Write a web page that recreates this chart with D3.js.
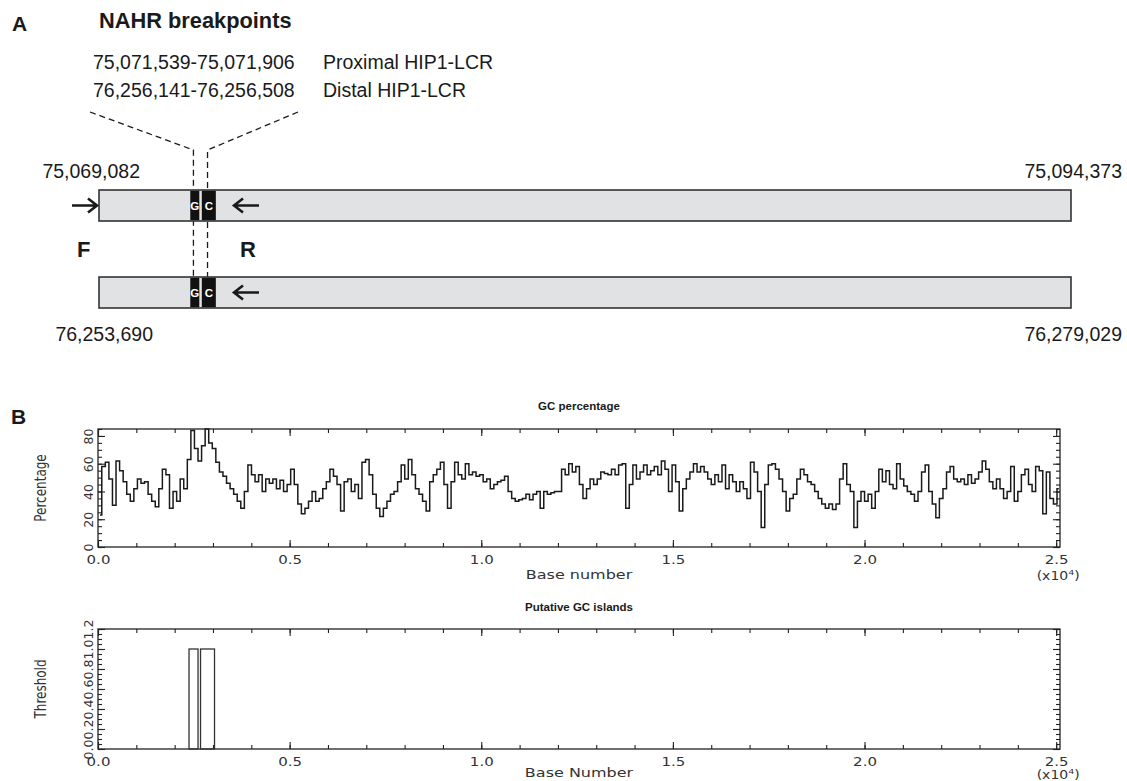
<!DOCTYPE html>
<html>
<head>
<meta charset="utf-8">
<script src="https://cdn.jsdelivr.net/npm/d3@7"></script>
<style>
  body { margin: 0; background: #fff; }
  svg { display: block; }
</style>
</head>
<body>
<div id="chart"></div>
<script>
// ---- Panel A data: the two HIP1-LCR regions and the breakpoints ----
var regionProx = [75069082, 75094373];
var regionDist = [76253690, 76279029];
var breakProx = [75071539, 75071906];
var breakDist = [76256141, 76256508];
var breakNames = ["Proximal HIP1-LCR", "Distal HIP1-LCR"];

// putative GC islands, offsets in bases from region start
var gcIslands = [[2375, 2610], [2675, 3040]];
var islandLetters = ["G", "C"];
var islandLevel = 1.0;

// ---- Panel B data: GC percentage along the sequence ----
var gcStart = 52;   // first window centre (bases)
var gcStep = 93;    // window step (bases)
var gcValues = [
  23,58,61,49,30,62,55,47,38,33,
  42,49,46,47,38,33,29,42,56,52,
  28,40,33,49,42,63,84,71,62,73,
  85,75,71,61,54,51,46,42,38,33,
  28,40,59,52,47,52,40,49,46,49,
  42,48,40,45,56,45,31,24,28,33,
  40,33,35,42,47,56,51,45,26,47,
  49,40,45,35,61,63,52,38,28,22,
  28,33,38,40,47,59,49,63,52,42,
  38,33,26,47,52,56,61,45,28,47,
  61,52,49,60,52,54,51,52,47,49,
  42,45,47,48,51,40,35,33,34,35,
  38,34,38,40,28,40,38,39,40,
  40,56,52,60,54,58,45,35,42,49,
  45,49,54,53,52,56,52,59,60,28,
  45,59,49,54,59,52,55,58,52,62,
  56,40,59,47,26,42,49,54,60,54,
  58,54,49,45,52,47,59,42,52,47,
  40,47,42,35,61,54,40,14,45,59,
  60,56,49,40,26,35,38,49,56,52,
  47,45,40,35,31,28,31,27,31,49,
  60,45,40,14,33,40,33,38,28,40,
  56,47,55,45,42,60,49,44,40,38,
  33,40,54,59,40,31,21,35,42,54,
  58,49,47,49,45,52,46,49,54,62,
  56,47,42,49,42,35,40,58,33,40,
  52,56,45,40,58,55,24,54,35,31,
  42
];

var seqLength = 25100;
var xTickValues = [0, 5000, 10000, 15000, 20000, 25000];
var xTickLabels = ["0.0", "0.5", "1.0", "1.5", "2.0", "2.5"];
var pctTicks = [0, 20, 40, 60, 80];
var thrTicks = [0, 0.2, 0.4, 0.6, 0.8, 1.0, 1.2];
var thrLabels = ["0.0", "0.2", "0.4", "0.6", "0.8", "1.0", "1.2"];

var svg_Width = 1127, svg_Height = 781;
var svg = d3.select("#chart").append("svg")
  .attr("width", svg_Width)
  .attr("height", svg_Height);

var fmt = d3.format(",");
var sans = "'Liberation Sans', Arial, Helvetica, sans-serif";
var idl = "'DejaVu Sans', sans-serif";
var ink = "#1a1a1a";

// ================= Panel A =================
var panelA = svg.append("g");

panelA.append("text").attr("x", 12).attr("y", 31)
  .attr("font-family", sans).attr("font-weight", "bold").attr("font-size", 21)
  .attr("fill", ink).text("A");

panelA.append("text").attr("x", 99).attr("y", 28)
  .attr("font-family", sans).attr("font-weight", "bold").attr("font-size", 21.8)
  .attr("fill", ink).text("NAHR breakpoints");

var breakRows = [breakProx, breakDist];
breakRows.forEach(function(b, i) {
  var y = 69 + i * 28;
  panelA.append("text").attr("x", 93).attr("y", y)
    .attr("font-family", sans).attr("font-size", 19.5).attr("fill", ink)
    .text(fmt(b[0]) + "-" + fmt(b[1]));
  panelA.append("text").attr("x", 323).attr("y", y)
    .attr("font-family", sans).attr("font-size", 19.5).attr("fill", ink)
    .text(breakNames[i]);
});

var barLeft = 99, barRight = 1071, barH = 31;
var barTops = [190, 277];
var xA = d3.scaleLinear()
  .domain([0, regionProx[1] - regionProx[0]])
  .range([barLeft, barRight]);

var bx0 = xA(breakProx[0] - regionProx[0]);
var bx1 = xA(breakProx[1] - regionProx[0]);

// dashed guide lines from the breakpoint text to the bars
var dash = panelA.append("g").attr("stroke", ink).attr("stroke-width", 1.3)
  .attr("stroke-dasharray", "6,4").attr("fill", "none");
dash.append("path").attr("d", `M90,112 L${bx0},150 L${bx0},${barTops[1]}`);
dash.append("path").attr("d", `M298,112 L${bx1},150 L${bx1},${barTops[1]}`);

function arrow(g, xFrom, xTo, y) {
  var dir = xTo > xFrom ? 1 : -1;
  g.append("path")
    .attr("d", `M${xFrom},${y} L${xTo},${y} M${xTo - dir * 9},${y - 7} L${xTo},${y} L${xTo - dir * 9},${y + 7}`)
    .attr("fill", "none").attr("stroke", ink).attr("stroke-width", 2.6)
    .attr("stroke-linejoin", "miter");
}

var regions = [regionProx, regionDist];
regions.forEach(function(r, i) {
  var top = barTops[i];
  var cy = top + barH / 2;
  panelA.append("rect")
    .attr("x", barLeft).attr("y", top)
    .attr("width", barRight - barLeft).attr("height", barH)
    .attr("fill", "#e1e2e4").attr("stroke", "#333").attr("stroke-width", 1.6);

  gcIslands.forEach(function(isl, k) {
    panelA.append("rect")
      .attr("x", xA(isl[0])).attr("y", top + 0.8)
      .attr("width", xA(isl[1]) - xA(isl[0])).attr("height", barH - 1.6)
      .attr("fill", "#111");
    panelA.append("text")
      .attr("x", (xA(isl[0]) + xA(isl[1])) / 2).attr("y", cy + 4)
      .attr("text-anchor", "middle")
      .attr("font-family", sans).attr("font-weight", "bold").attr("font-size", 11.5)
      .attr("fill", "#fff").text(islandLetters[k]);
  });

  // reverse primer arrow on both bars
  arrow(panelA, 259, 234, cy);

  // coordinates of region ends
  var labY = i === 0 ? top - 12 : top + barH + 33;
  panelA.append("text")
    .attr("x", i === 0 ? 140 : 153).attr("y", labY)
    .attr("text-anchor", "end")
    .attr("font-family", sans).attr("font-size", 19.5).attr("fill", ink)
    .text(fmt(r[0]));
  panelA.append("text")
    .attr("x", 1122).attr("y", labY)
    .attr("text-anchor", "end")
    .attr("font-family", sans).attr("font-size", 19.5).attr("fill", ink)
    .text(fmt(r[1]));
});

// forward primer arrow
arrow(panelA, 72, 97, barTops[0] + barH / 2);

panelA.append("text").attr("x", 77).attr("y", 257)
  .attr("font-family", sans).attr("font-weight", "bold").attr("font-size", 22)
  .attr("fill", ink).text("F");
panelA.append("text").attr("x", 240).attr("y", 257)
  .attr("font-family", sans).attr("font-weight", "bold").attr("font-size", 22)
  .attr("fill", ink).text("R");

// ================= Panel B =================
svg.append("text").attr("x", 11).attr("y", 424)
  .attr("font-family", sans).attr("font-weight", "bold").attr("font-size", 21)
  .attr("fill", ink).text("B");

var plotLeft = 98, plotRight = 1060;
var xB = d3.scaleLinear().domain([0, seqLength]).range([plotLeft, plotRight]);
var xMinor = d3.range(0, seqLength, 1000);

// draws a framed IDL-style plot: inward ticks on all four sides
function framedPlot(y, top, bottom, yMajor, yMinor, yLabels, title, titleY, yTitle, xTitle, xTitleDy, expDy) {
  var g = svg.append("g");
  var tc = "#222";

  // bottom axis with labels
  var bAx = g.append("g").attr("transform", `translate(0,${bottom})`)
    .call(d3.axisBottom(xB).tickValues(xTickValues).tickSizeInner(-7).tickSizeOuter(0)
      .tickFormat(function(d, i) { return xTickLabels[i]; }));
  bAx.selectAll("text").attr("y", null).attr("dy", null)
    .attr("transform", "translate(0,17) scale(1,0.82)")
    .attr("font-family", idl).attr("font-size", 15).attr("fill", "#333");
  g.append("g").attr("transform", `translate(0,${bottom})`)
    .call(d3.axisBottom(xB).tickValues(xMinor).tickSize(-4).tickFormat(""));
  g.append("g").attr("transform", `translate(0,${top})`)
    .call(d3.axisTop(xB).tickValues(xTickValues).tickSize(-7).tickFormat(""));
  g.append("g").attr("transform", `translate(0,${top})`)
    .call(d3.axisTop(xB).tickValues(xMinor).tickSize(-4).tickFormat(""));

  // left axis with rotated labels
  var lAx = g.append("g").attr("transform", `translate(${plotLeft},0)`)
    .call(d3.axisLeft(y).tickValues(yMajor).tickSizeInner(-7).tickSizeOuter(0)
      .tickFormat(function(d, i) { return yLabels[i]; }));
  lAx.selectAll("text").attr("x", null).attr("dy", null)
    .attr("text-anchor", "middle")
    .attr("transform", "translate(-5,0) rotate(-90)")
    .attr("font-family", idl).attr("font-size", 12.5).attr("fill", "#333");
  g.append("g").attr("transform", `translate(${plotLeft},0)`)
    .call(d3.axisLeft(y).tickValues(yMinor).tickSize(-4).tickFormat(""));
  g.append("g").attr("transform", `translate(${plotRight},0)`)
    .call(d3.axisRight(y).tickValues(yMajor).tickSize(-7).tickFormat(""));
  g.append("g").attr("transform", `translate(${plotRight},0)`)
    .call(d3.axisRight(y).tickValues(yMinor).tickSize(-4).tickFormat(""));

  g.selectAll(".domain").remove();
  g.selectAll(".tick line").attr("stroke", tc).attr("stroke-width", 1.1);

  g.append("rect").attr("x", plotLeft).attr("y", top)
    .attr("width", plotRight - plotLeft).attr("height", bottom - top)
    .attr("fill", "none").attr("stroke", tc).attr("stroke-width", 1.3);

  g.append("text").attr("x", (plotLeft + plotRight) / 2).attr("y", titleY)
    .attr("text-anchor", "middle")
    .attr("font-family", sans).attr("font-weight", "bold").attr("font-size", 11.5)
    .attr("fill", ink).text(title);

  g.append("text")
    .attr("transform", `translate(46,${(top + bottom) / 2}) rotate(-90) scale(0.8,1)`)
    .attr("text-anchor", "middle")
    .attr("font-family", idl).attr("font-size", 15).attr("fill", "#333")
    .text(yTitle);

  g.append("text")
    .attr("transform", `translate(${(plotLeft + plotRight) / 2},${bottom + xTitleDy}) scale(1,0.82)`)
    .attr("text-anchor", "middle")
    .attr("font-family", idl).attr("font-size", 16).attr("fill", "#333")
    .text(xTitle);

  var ex = g.append("text")
    .attr("transform", `translate(${xB(25000) + 2},${bottom + expDy}) scale(1,0.82)`)
    .attr("text-anchor", "middle")
    .attr("font-family", idl).attr("font-size", 14).attr("fill", "#333");
  ex.append("tspan").text("(x10");
  ex.append("tspan").attr("font-size", 9.5).attr("dy", -6).text("4");
  ex.append("tspan").attr("dy", 6).text(")");

  return g;
}

// --- GC percentage ---
var pctTop = 429, pctBottom = 547;
var yPct = d3.scaleLinear().domain([0, 85]).range([pctBottom, pctTop]);
var gPct = framedPlot(yPct, pctTop, pctBottom, pctTicks, d3.range(0, 86, 5),
  pctTicks.map(String), "GC percentage", 410, "Percentage", "Base number", 32, 33);

var gcSeries = gcValues.map(function(v, i) {
  return { b: gcStart + i * gcStep, v: v };
});
var gcLine = d3.line()
  .x(d => xB(d.b))
  .y(d => yPct(d.v))
  .curve(d3.curveStep);
gPct.append("path")
  .datum(gcSeries)
  .attr("d", gcLine)
  .attr("fill", "none")
  .attr("stroke", ink)
  .attr("stroke-width", 1.5);

// --- putative GC islands ---
var thrTop = 629, thrBottom = 749;
var yThr = d3.scaleLinear().domain([0, 1.2]).range([thrBottom, thrTop]);
var gThr = framedPlot(yThr, thrTop, thrBottom, thrTicks, d3.range(0, 1.21, 0.05),
  thrLabels, "Putative GC islands", 611, "Threshold", "Base Number", 28, 30);

gThr.selectAll(".island")
  .data(gcIslands)
  .enter()
  .append("rect")
  .attr("class", "island")
  .attr("x", d => xB(d[0]))
  .attr("y", yThr(islandLevel))
  .attr("width", d => xB(d[1]) - xB(d[0]))
  .attr("height", yThr(0) - yThr(islandLevel))
  .attr("fill", "none")
  .attr("stroke", "#333")
  .attr("stroke-width", 1.3);
</script>
</body>
</html>
